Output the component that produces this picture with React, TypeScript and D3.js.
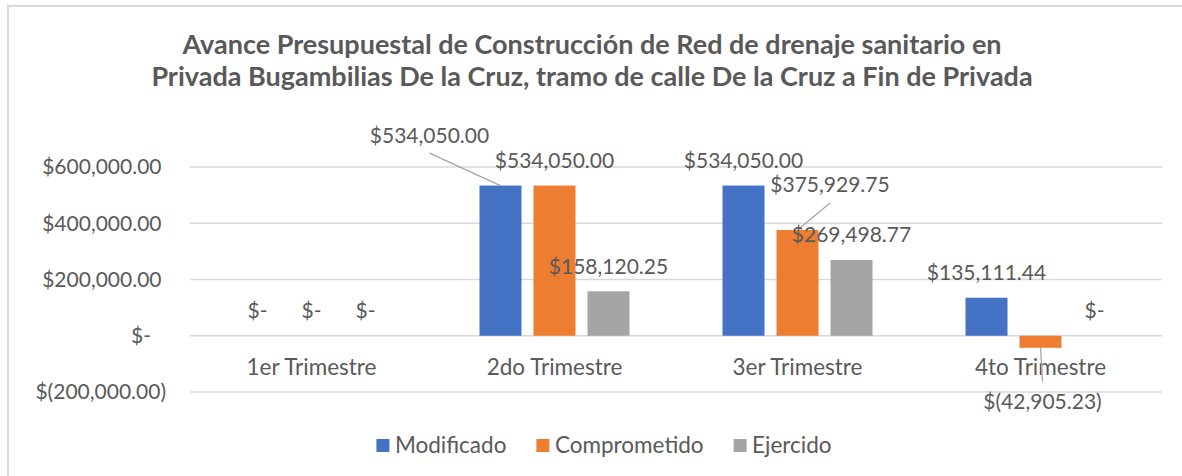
import React, { useEffect, useRef } from "react";
import * as d3 from "d3";

const titleLines = [
  "Avance Presupuestal de Construcción de Red de drenaje sanitario en",
  "Privada Bugambilias De la Cruz, tramo de calle De la Cruz a Fin de Privada",
];
const categories = ["1er Trimestre", "2do Trimestre", "3er Trimestre", "4to Trimestre"];
const seriesNames = ["Modificado", "Comprometido", "Ejercido"];
const modificado = [0, 534050.0, 534050.0, 135111.44];
const comprometido = [0, 534050.0, 375929.75, -42905.23];
const ejercido = [0, 158120.25, 269498.77, 0];
const yTicks = [-200000, 0, 200000, 400000, 600000];
const colors = ["#4472C4", "#ED7D31", "#A5A5A5"];

// moved data labels (series index, category index) -> label offset from bar center / end
const movedLabels = [
  { s: 0, c: 1, dx: -71, dy: -50, edge: 17.5 },
  { s: 1, c: 2, dx: 32.5, dy: -45, edge: 18 },
  { s: 1, c: 3, dx: 2, dy: 54, edge: -20 },
];

const W = 1182;
const H = 476;
const FONT = "Lato, 'Open Sans', sans-serif";
const TXT = "#595959";

function fmt(v: number): string {
  if (v === 0) return "$-";
  const f = d3.format(",.2f");
  return v < 0 ? `$(${f(-v)})` : `$${f(v)}`;
}

export default function App() {
  const ref = useRef<SVGSVGElement>(null);
  useEffect(() => {
    const svg = d3.select(ref.current);
    svg.selectAll("*").remove();
    const values = [modificado, comprometido, ejercido];

    // chart border
    svg.append("rect").attr("x", 8).attr("y", 6).attr("width", W + 20).attr("height", H + 20)
      .attr("fill", "#fff").attr("stroke", "#D9D9D9").attr("stroke-width", 2);

    // title
    const title = svg.append("text").attr("text-anchor", "middle").attr("fill", TXT)
      .attr("font-family", FONT).attr("font-weight", "bold").attr("font-size", 27);
    titleLines.forEach((t, i) => {
      title.append("tspan").attr("x", 592).attr("y", 54 + i * 32).text(t);
    });

    const x = d3.scaleBand<string>().domain(categories).range([190, 1162]);
    const xs = d3.scaleBand<string>().domain(seriesNames).range([46.5, 196.5]).paddingInner(12 / 54);
    const y = d3.scaleLinear().domain([-200000, 600000]).range([392, 167]);

    // gridlines
    svg.append("g").selectAll("line").data(yTicks).join("line")
      .attr("x1", 190).attr("x2", 1162)
      .attr("y1", (d) => y(d)).attr("y2", (d) => y(d))
      .attr("stroke", "#D9D9D9").attr("stroke-width", 1.5);

    // y tick labels (accounting alignment)
    svg.append("g").selectAll("text").data(yTicks).join("text")
      .attr("x", 166)
      .attr("dx", (d) => (d < 0 ? 0 : d === 0 ? -15 : -4.5))
      .attr("y", (d) => y(d)).attr("dy", "0.35em")
      .attr("text-anchor", "end").attr("fill", TXT)
      .attr("font-family", FONT).attr("font-size", 21)
      .text((d) => fmt(d));

    // category labels
    svg.append("g").selectAll("text").data(categories).join("text")
      .attr("x", (d) => (x(d) as number) + x.bandwidth() / 2)
      .attr("y", y(0) + 31).attr("dy", "0.35em")
      .attr("text-anchor", "middle").attr("fill", TXT)
      .attr("font-family", FONT).attr("font-size", 22.5)
      .text((d) => d);

    // bars
    seriesNames.forEach((s, si) => {
      svg.append("g").selectAll("rect").data(values[si]).join("rect")
        .attr("x", (_d, ci) => (x(categories[ci]) as number) + (xs(s) as number))
        .attr("width", xs.bandwidth())
        .attr("y", (d) => Math.min(y(d), y(0)))
        .attr("height", (d) => Math.abs(y(d) - y(0)))
        .attr("fill", colors[si]);
    });

    // data labels
    const lbl = svg.append("g").attr("font-family", FONT).attr("font-size", 21)
      .attr("fill", TXT).attr("text-anchor", "middle");
    seriesNames.forEach((s, si) => {
      values[si].forEach((v, ci) => {
        const cx = (x(categories[ci]) as number) + (xs(s) as number) + xs.bandwidth() / 2;
        const end = y(v);
        const moved = movedLabels.find((m) => m.s === si && m.c === ci);
        let lx = cx;
        let ly = v < 0 ? end + 25 : end - 25;
        if (moved) {
          lx = cx + moved.dx;
          ly = end + moved.dy;
          lbl.append("line")
            .attr("x1", lx).attr("y1", ly + moved.edge)
            .attr("x2", cx).attr("y2", end)
            .attr("stroke", "#A6A6A6").attr("stroke-width", 1.3);
        }
        lbl.append("text").attr("x", lx).attr("y", ly).attr("dy", "0.35em").text(fmt(v));
      });
    });

    // legend
    const lg = svg.append("g").attr("font-family", FONT).attr("font-size", 22.5).attr("fill", TXT);
    const items = seriesNames.map((s, i) => {
      const g = lg.append("g");
      g.append("rect").attr("x", 0).attr("y", -6.5).attr("width", 13).attr("height", 13).attr("fill", colors[i]);
      const t = g.append("text").attr("x", 18.5).attr("dy", "0.35em").text(s);
      const w = 18.5 + (t.node() as SVGTextElement).getComputedTextLength();
      return { g, w };
    });
    const gap = 30;
    const total = d3.sum(items, (d) => d.w) + gap * (items.length - 1);
    let cur = 604 - total / 2;
    items.forEach((it) => {
      it.g.attr("transform", `translate(${cur},${445.5})`);
      cur += it.w + gap;
    });
  }, []);

  return (
    <svg ref={ref} width={W} height={H} style={{ display: "block", position: "absolute", left: 0, top: 0 }} />
  );
}
